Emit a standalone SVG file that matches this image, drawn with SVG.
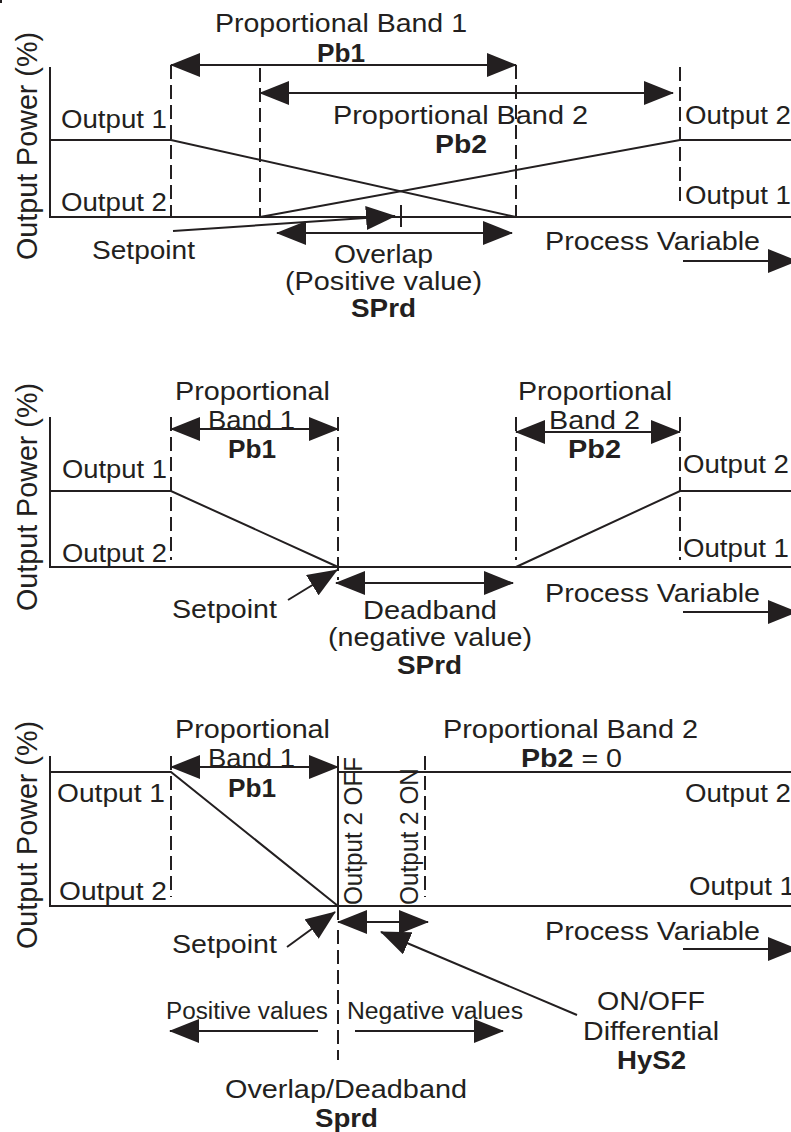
<svg xmlns="http://www.w3.org/2000/svg" width="791" height="1132" viewBox="0 0 791 1132">
<style>
text{font-family:"Liberation Sans",Arial,sans-serif;font-size:25px;fill:#231f20}
.b{font-weight:bold}
.sm{font-size:23px}
.ax{font-size:29px}
.ln{fill:none;stroke:#231f20;stroke-width:2}
.ds{fill:none;stroke:#231f20;stroke-width:2;stroke-dasharray:14 6}
.a2{marker-start:url(#ah);marker-end:url(#ah)}
.a1{marker-end:url(#ah)}
</style>
<defs>
<marker id="ah" viewBox="0 0 30 24" markerWidth="30" markerHeight="24" refX="29" refY="12" orient="auto-start-reverse" markerUnits="userSpaceOnUse"><path d="M0,0 L30,12 L0,24 z" fill="#231f20"/></marker>
</defs>
<rect width="791" height="1132" fill="#fff"/>
<rect x="0" y="0" width="2" height="3" fill="#231f20"/>

<g id="connectors">
<path class="ln" d="M50,67 V217 H791"/>
<path class="ln" d="M50,140 H171 L516,217"/>
<path class="ln" d="M260,217 L680,140 H791"/>
<path class="ds" d="M171,65 V217 M260,68 V217 M516,65 V217 M680,67 V207"/>
<path class="ln a2" d="M171,65 H516"/>
<path class="ln a2" d="M260,93 H673"/>
<path class="ln a1" d="M173,231 L395,216"/>
<path class="ln" d="M401,205 V227"/>
<path class="ln a2" d="M277,233 H512"/>
<path class="ln a1" d="M683,261 H797"/>
<path class="ln" d="M50,417 V567 H791"/>
<path class="ln" d="M50,491 H171 L338,567"/>
<path class="ln" d="M516,567 L680,491 H791"/>
<path class="ds" d="M171,417 V560 M338,417 V580 M516,417 V560 M680,417 V560"/>
<path class="ln a2" d="M171,429 H338"/>
<path class="ln a2" d="M516,432 H680"/>
<path class="ln a1" d="M288,600 L337,570"/>
<path class="ln a2" d="M336,583 H513"/>
<path class="ln a1" d="M683,612 H797"/>
<path class="ln" d="M50,756 V906 H791"/>
<path class="ln" d="M50,772 H171 L338,906"/>
<path class="ln" d="M338,756 V920 M338,772 H791"/>
<path class="ds" d="M171,756 V897 M425,756 V897 M338,930 V1060"/>
<path class="ln a2" d="M171,767 H338"/>
<path class="ln a2" d="M338,922 H428"/>
<path class="ln a1" d="M287,947 L335,912"/>
<path class="ln a1" d="M577,1015 L381,932"/>
<path class="ln a1" d="M683,949 H797"/>
<path class="ln a1" d="M318,1031 H170"/>
<path class="ln a1" d="M355,1031 H503"/>
</g>

<g id="panel-top">
<text class="ax" transform="translate(37,146) rotate(-90)" text-anchor="middle" textLength="228" lengthAdjust="spacingAndGlyphs">Output Power (%)</text>
<text x="215" y="32" textLength="252" lengthAdjust="spacingAndGlyphs">Proportional Band 1</text>
<text class="b" x="317" y="62" textLength="48" lengthAdjust="spacingAndGlyphs">Pb1</text>
<text x="61" y="128" textLength="106" lengthAdjust="spacingAndGlyphs">Output 1</text>
<text x="61" y="211" textLength="106" lengthAdjust="spacingAndGlyphs">Output 2</text>
<text x="92" y="259" textLength="103" lengthAdjust="spacingAndGlyphs">Setpoint</text>
<text x="333" y="124" textLength="255" lengthAdjust="spacingAndGlyphs">Proportional Band 2</text>
<text class="b" x="435" y="153" textLength="52" lengthAdjust="spacingAndGlyphs">Pb2</text>
<text x="685" y="124" textLength="106" lengthAdjust="spacingAndGlyphs">Output 2</text>
<text x="685" y="204" textLength="106" lengthAdjust="spacingAndGlyphs">Output 1</text>
<text x="545" y="250" textLength="215" lengthAdjust="spacingAndGlyphs">Process Variable</text>
<text x="334" y="263" textLength="99" lengthAdjust="spacingAndGlyphs">Overlap</text>
<text x="285" y="290" textLength="197" lengthAdjust="spacingAndGlyphs">(Positive value)</text>
<text class="b" x="351" y="317" textLength="65" lengthAdjust="spacingAndGlyphs">SPrd</text>
</g>

<g id="panel-middle">
<text class="ax" transform="translate(37,497) rotate(-90)" text-anchor="middle" textLength="228" lengthAdjust="spacingAndGlyphs">Output Power (%)</text>
<text x="175" y="400" textLength="155" lengthAdjust="spacingAndGlyphs">Proportional</text>
<text x="208" y="429" textLength="87" lengthAdjust="spacingAndGlyphs">Band 1</text>
<text class="b" x="228" y="458" textLength="48" lengthAdjust="spacingAndGlyphs">Pb1</text>
<text x="62" y="478" textLength="105" lengthAdjust="spacingAndGlyphs">Output 1</text>
<text x="62" y="562" textLength="105" lengthAdjust="spacingAndGlyphs">Output 2</text>
<text x="172" y="618" textLength="105" lengthAdjust="spacingAndGlyphs">Setpoint</text>
<text x="363" y="619" textLength="134" lengthAdjust="spacingAndGlyphs">Deadband</text>
<text x="328" y="646" textLength="204" lengthAdjust="spacingAndGlyphs">(negative value)</text>
<text class="b" x="397" y="674" textLength="65" lengthAdjust="spacingAndGlyphs">SPrd</text>
<text x="518" y="400" textLength="154" lengthAdjust="spacingAndGlyphs">Proportional</text>
<text x="549" y="429" textLength="91" lengthAdjust="spacingAndGlyphs">Band 2</text>
<text class="b" x="568" y="458" textLength="53" lengthAdjust="spacingAndGlyphs">Pb2</text>
<text x="683" y="473" textLength="106" lengthAdjust="spacingAndGlyphs">Output 2</text>
<text x="683" y="557" textLength="106" lengthAdjust="spacingAndGlyphs">Output 1</text>
<text x="545" y="602" textLength="215" lengthAdjust="spacingAndGlyphs">Process Variable</text>
</g>

<g id="panel-bottom">
<text class="ax" transform="translate(37,835) rotate(-90)" text-anchor="middle" textLength="228" lengthAdjust="spacingAndGlyphs">Output Power (%)</text>
<text x="175" y="738" textLength="155" lengthAdjust="spacingAndGlyphs">Proportional</text>
<text x="208" y="767" textLength="87" lengthAdjust="spacingAndGlyphs">Band 1</text>
<text class="b" x="228" y="797" textLength="48" lengthAdjust="spacingAndGlyphs">Pb1</text>
<text x="57" y="802" textLength="108" lengthAdjust="spacingAndGlyphs">Output 1</text>
<text x="59" y="900" textLength="108" lengthAdjust="spacingAndGlyphs">Output 2</text>
<text x="172" y="953" textLength="105" lengthAdjust="spacingAndGlyphs">Setpoint</text>
<text transform="translate(362,905) rotate(-90)" textLength="148" lengthAdjust="spacingAndGlyphs">Output 2 OFF</text>
<text transform="translate(418,905) rotate(-90)" textLength="137" lengthAdjust="spacingAndGlyphs">Output 2 ON</text>
<text x="443" y="738" textLength="255" lengthAdjust="spacingAndGlyphs">Proportional Band 2</text>
<text x="521" y="767" textLength="101" lengthAdjust="spacingAndGlyphs"><tspan class="b">Pb2</tspan> = 0</text>
<text x="685" y="802" textLength="106" lengthAdjust="spacingAndGlyphs">Output 2</text>
<text x="689" y="895" textLength="106" lengthAdjust="spacingAndGlyphs">Output 1</text>
<text x="545" y="940" textLength="215" lengthAdjust="spacingAndGlyphs">Process Variable</text>
<text class="sm" x="166" y="1019" textLength="162" lengthAdjust="spacingAndGlyphs">Positive values</text>
<text class="sm" x="347" y="1019" textLength="176" lengthAdjust="spacingAndGlyphs">Negative values</text>
<text x="597" y="1010" textLength="108" lengthAdjust="spacingAndGlyphs">ON/OFF</text>
<text x="583" y="1040" textLength="136" lengthAdjust="spacingAndGlyphs">Differential</text>
<text class="b" x="617" y="1069" textLength="69" lengthAdjust="spacingAndGlyphs">HyS2</text>
<text x="225" y="1098" textLength="242" lengthAdjust="spacingAndGlyphs">Overlap/Deadband</text>
<text class="b" x="315" y="1127" textLength="63" lengthAdjust="spacingAndGlyphs">Sprd</text>
</g>
</svg>
